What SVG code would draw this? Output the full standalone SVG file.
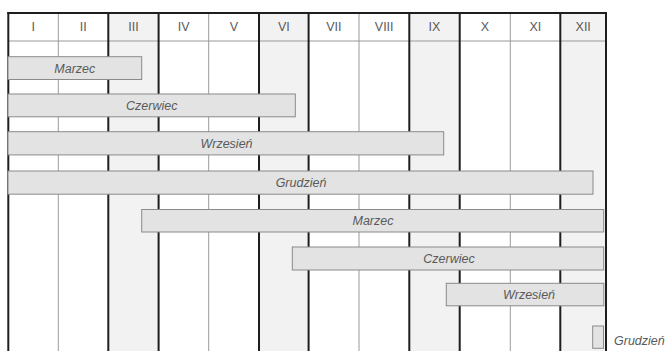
<svg xmlns="http://www.w3.org/2000/svg" width="666" height="351" viewBox="0 0 666 351">
<style>
.bg{fill:#ffffff}
.shade{fill:#f2f2f2}
.thick{stroke:#1e1e1e;stroke-width:2;fill:none}
.thin{stroke:#9a9a9a;stroke-width:1;fill:none}
.hdr{font-family:"Liberation Sans",Arial,sans-serif;font-size:12.5px;fill:#5a5a5a;text-anchor:middle}
.bar{fill:#e3e3e3;stroke:#8a8a8a;stroke-width:1}
.lbl{font-family:"Liberation Sans",Arial,sans-serif;font-size:12.5px;font-style:italic;fill:#5a5a5a;text-anchor:middle}
.lblL{font-family:"Liberation Sans",Arial,sans-serif;font-size:12.5px;font-style:italic;fill:#5a5a5a;text-anchor:start}
</style>
<rect class="bg" x="0" y="0" width="666" height="351"/>
<g id="grid">
<rect class="shade" x="108.3" y="13" width="50.3" height="338"/>
<rect class="shade" x="259" y="13" width="49.6" height="338"/>
<rect class="shade" x="409.3" y="13" width="50.4" height="338"/>
<rect class="shade" x="560.3" y="13" width="45.7" height="338"/>
<line class="thin" x1="8" y1="41" x2="606" y2="41"/>
<line class="thin" x1="58.3" y1="13" x2="58.3" y2="351"/>
<line class="thin" x1="208.7" y1="13" x2="208.7" y2="351"/>
<line class="thin" x1="359" y1="13" x2="359" y2="351"/>
<line class="thin" x1="510.3" y1="13" x2="510.3" y2="351"/>
<line class="thick" x1="8.3" y1="12" x2="8.3" y2="351"/>
<line class="thick" x1="108.3" y1="13" x2="108.3" y2="351"/>
<line class="thick" x1="158.6" y1="13" x2="158.6" y2="351"/>
<line class="thick" x1="259" y1="13" x2="259" y2="351"/>
<line class="thick" x1="308.6" y1="13" x2="308.6" y2="351"/>
<line class="thick" x1="409.3" y1="13" x2="409.3" y2="351"/>
<line class="thick" x1="459.7" y1="13" x2="459.7" y2="351"/>
<line class="thick" x1="560.3" y1="13" x2="560.3" y2="351"/>
<line class="thick" x1="606" y1="12" x2="606" y2="351"/>
<line class="thick" x1="7.3" y1="13" x2="607" y2="13"/>
</g>
<g id="header">
<text class="hdr" x="33.2" y="31">I</text>
<text class="hdr" x="83.3" y="31">II</text>
<text class="hdr" x="133.5" y="31">III</text>
<text class="hdr" x="183.7" y="31">IV</text>
<text class="hdr" x="233.8" y="31">V</text>
<text class="hdr" x="283.8" y="31">VI</text>
<text class="hdr" x="333.8" y="31">VII</text>
<text class="hdr" x="384.2" y="31">VIII</text>
<text class="hdr" x="434.5" y="31">IX</text>
<text class="hdr" x="485" y="31">X</text>
<text class="hdr" x="535.3" y="31">XI</text>
<text class="hdr" x="583.2" y="31">XII</text>
</g>
<g id="bar-marzec-1">
<rect class="bar" x="8" y="56.7" width="133.7" height="22.8"/>
<text class="lbl" x="74.8" y="72.5">Marzec</text>
</g>
<g id="bar-czerwiec-1">
<rect class="bar" x="8" y="94" width="287.3" height="22.8"/>
<text class="lbl" x="151.7" y="109.8">Czerwiec</text>
</g>
<g id="bar-wrzesien-1">
<rect class="bar" x="8" y="131.7" width="435.7" height="23.2"/>
<text class="lbl" x="226.5" y="147.7">Wrzesień</text>
</g>
<g id="bar-grudzien-1">
<rect class="bar" x="8" y="171" width="585" height="23.2"/>
<text class="lbl" x="301" y="187">Grudzień</text>
</g>
<g id="bar-marzec-2">
<rect class="bar" x="141.7" y="209.5" width="462" height="22.5"/>
<text class="lbl" x="373" y="225.3">Marzec</text>
</g>
<g id="bar-czerwiec-2">
<rect class="bar" x="292.3" y="247" width="311.4" height="23"/>
<text class="lbl" x="449" y="263">Czerwiec</text>
</g>
<g id="bar-wrzesien-2">
<rect class="bar" x="446.3" y="283.3" width="157.5" height="22.5"/>
<text class="lbl" x="529" y="299.2">Wrzesień</text>
</g>
<g id="bar-grudzien-2">
<rect class="bar" x="592.7" y="326" width="10.8" height="22.3"/>
<text class="lblL" x="614" y="345">Grudzień</text>
</g>
</svg>
